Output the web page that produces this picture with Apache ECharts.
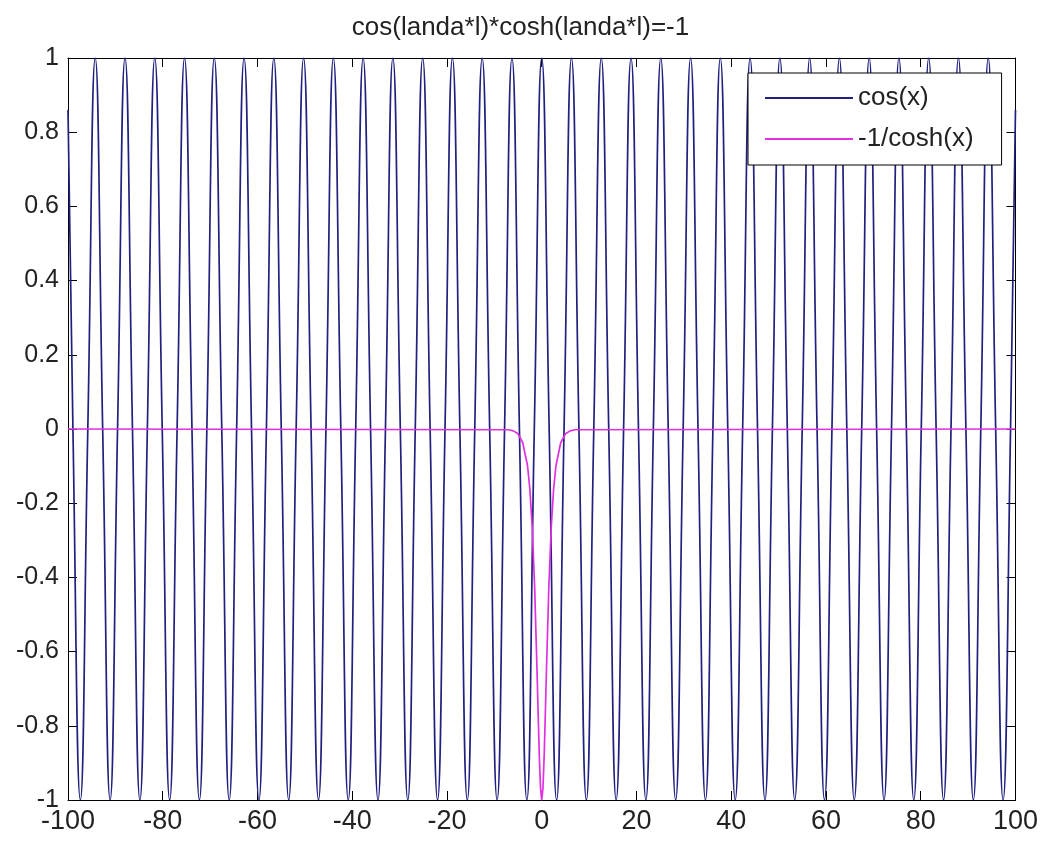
<!DOCTYPE html>
<html>
<head>
<meta charset="utf-8">
<script src="https://cdn.jsdelivr.net/npm/echarts@6/dist/echarts.min.js"></script>
<style>html,body{margin:0;padding:0;background:#fff;}#c{width:1041px;height:842px;}</style>
</head>
<body>
<div id="c"></div>
<script>
// cos(x): x positions of maxima (y = 1), minima (y = -1) and zero crossings
var cosPeakX = [-94.25, -87.96, -81.68, -75.40, -69.12, -62.83, -56.55, -50.27, -43.98, -37.70, -31.42, -25.13, -18.85, -12.57, -6.28, 0, 6.28, 12.57, 18.85, 25.13, 31.42, 37.70, 43.98, 50.27, 56.55, 62.83, 69.12, 75.40, 81.68, 87.96, 94.25];
var cosTroughX = [-97.39, -91.11, -84.82, -78.54, -72.26, -65.97, -59.69, -53.41, -47.12, -40.84, -34.56, -28.27, -21.99, -15.71, -9.42, -3.14, 3.14, 9.42, 15.71, 21.99, 28.27, 34.56, 40.84, 47.12, 53.41, 59.69, 65.97, 72.26, 78.54, 84.82, 91.11, 97.39];
var cosZeroX = [-98.96, -95.82, -92.68, -89.54, -86.39, -83.25, -80.11, -76.97, -73.83, -70.69, -67.54, -64.40, -61.26, -58.12, -54.98, -51.84, -48.69, -45.55, -42.41, -39.27, -36.13, -32.99, -29.85, -26.70, -23.56, -20.42, -17.28, -14.14, -10.99, -7.85, -4.71, -1.57, 1.57, 4.71, 7.85, 10.99, 14.14, 17.28, 20.42, 23.56, 26.70, 29.85, 32.99, 36.13, 39.27, 42.41, 45.55, 48.69, 51.84, 54.98, 58.12, 61.26, 64.40, 67.54, 70.69, 73.83, 76.97, 80.11, 83.25, 86.39, 89.54, 92.68, 95.82, 98.96];
var cosEndX = [-100, 100];
var cosEndY = [0.86, 0.86];

// -1/cosh(x)
var coshX = [-100, -7, -6, -5, -4, -3, -2.5, -2, -1.5, -1, -0.75, -0.5, -0.25, 0, 0.25, 0.5, 0.75, 1, 1.5, 2, 2.5, 3, 4, 5, 6, 7, 100];
var coshY = [0, -0.002, -0.005, -0.013, -0.037, -0.099, -0.163, -0.266, -0.425, -0.648, -0.771, -0.887, -0.969, -1, -0.969, -0.887, -0.771, -0.648, -0.425, -0.266, -0.163, -0.099, -0.037, -0.013, -0.005, -0.002, 0];

var xTicks = [-100, -80, -60, -40, -20, 0, 20, 40, 60, 80, 100];
var yTicks = [-1, -0.8, -0.6, -0.4, -0.2, 0, 0.2, 0.4, 0.6, 0.8, 1];

var cosData = [];
cosPeakX.forEach(function (x) { cosData.push([x, 1]); });
cosTroughX.forEach(function (x) { cosData.push([x, -1]); });
cosZeroX.forEach(function (x) { cosData.push([x, 0]); });
cosEndX.forEach(function (x, i) { cosData.push([x, cosEndY[i]]); });
cosData.sort(function (a, b) { return a[0] - b[0]; });
var coshData = coshX.map(function (x, i) { return [x, coshY[i]]; });

var FONT = 'Liberation Sans';
var COS_COLOR = '#20207e';
var COSH_COLOR = '#e030e0';
var chart = echarts.init(document.getElementById('c'), null, {renderer: 'canvas'});
var tickStyle = {show: true, inside: true, length: 9, lineStyle: {color: '#000', width: 1}};
var xBase = {type: 'value', min: xTicks[0], max: xTicks[xTicks.length - 1], interval: 20,
  axisLine: {show: true, onZero: false, lineStyle: {color: '#000', width: 1}},
  axisTick: tickStyle, splitLine: {show: false}};
var yBase = {type: 'value', min: yTicks[0], max: yTicks[yTicks.length - 1], interval: 0.2,
  axisLine: {show: true, onZero: false, lineStyle: {color: '#000', width: 1}},
  axisTick: tickStyle, splitLine: {show: false}};

chart.setOption({
  animation: false,
  backgroundColor: '#fff',
  title: {text: 'cos(landa*l)*cosh(landa*l)=-1', left: 'center', top: 10,
    textStyle: {fontFamily: FONT, fontSize: 26, fontWeight: 'normal', color: '#222'}},
  grid: {left: 68, right: 24, top: 58, bottom: 42, containLabel: false},
  legend: {
    orient: 'vertical', left: 748, top: 73,
    backgroundColor: '#fff', borderColor: '#000', borderWidth: 1, borderRadius: 0,
    padding: [12, 28, 13, 17], itemGap: 15, itemWidth: 88, itemHeight: 2,
    icon: 'rect',
    textStyle: {fontFamily: FONT, fontSize: 26, color: '#222'},
    data: ['cos(x)', '-1/cosh(x)']
  },
  xAxis: [
    Object.assign({}, xBase, {position: 'bottom',
      axisLabel: {show: true, margin: 8, fontFamily: FONT, fontSize: 27, color: '#222'}}),
    Object.assign({}, xBase, {position: 'top', axisLabel: {show: false}})
  ],
  yAxis: [
    Object.assign({}, yBase, {position: 'left',
      axisLabel: {show: true, margin: 9, fontFamily: FONT, fontSize: 25, color: '#222'}}),
    Object.assign({}, yBase, {position: 'right', axisLabel: {show: false}})
  ],
  series: [
    {name: 'cos(x)', type: 'line', data: cosData, symbol: 'none', smooth: 0.5,
      lineStyle: {color: COS_COLOR, width: 1.7}, itemStyle: {color: COS_COLOR}, z: 2},
    {name: '-1/cosh(x)', type: 'line', data: coshData, symbol: 'none',
      lineStyle: {color: COSH_COLOR, width: 1.7}, itemStyle: {color: COSH_COLOR}, z: 3}
  ]
});
</script>
</body>
</html>
